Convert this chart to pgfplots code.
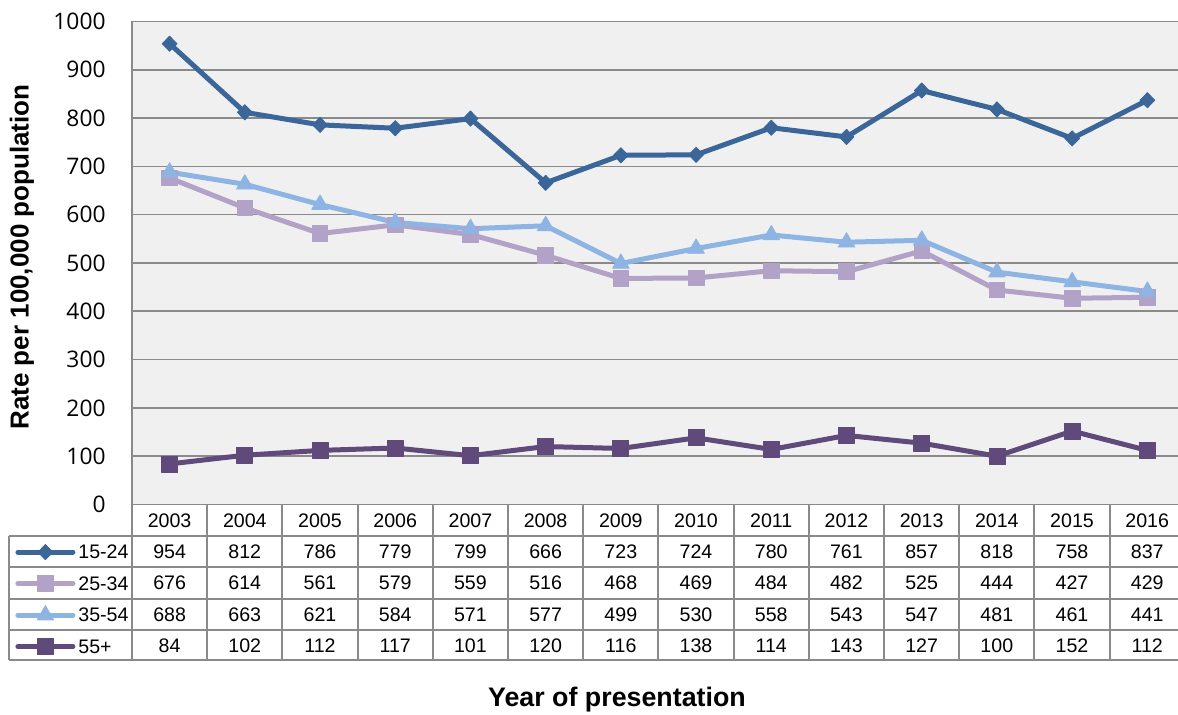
\documentclass[border=0pt]{standalone}
\usepackage{pgfplots}
\pgfplotsset{compat=1.18}
\usepackage{pgfplotstable}
\usepackage{fontspec}
\setmainfont{Liberation Sans}
\newfontfamily\tickfont{Open Sans}

\definecolor{sA}{HTML}{3A6699}
\definecolor{sB}{HTML}{B3A2C7}
\definecolor{sC}{HTML}{8EB4E3}
\definecolor{sD}{HTML}{604A7B}
\definecolor{gridgray}{HTML}{8A8A8A}
\definecolor{plotbg}{HTML}{F0F0F0}

% Rate per 100,000 population by age group
\pgfplotstableread{
year a   b   c   d
2003 954 676 688 84
2004 812 614 663 102
2005 786 561 621 112
2006 779 579 584 117
2007 799 559 571 101
2008 666 516 577 120
2009 723 468 499 116
2010 724 469 530 138
2011 780 484 558 114
2012 761 482 543 143
2013 857 525 547 127
2014 818 444 481 100
2015 758 427 461 152
2016 837 429 441 112
}\data

\tikzset{tabfont/.style={font=\fontsize{9.8}{11}\selectfont, inner sep=0pt}}

\begin{document}
\begin{tikzpicture}
\useasboundingbox (0,0) rectangle (589pt,-357.5pt);
\begin{axis}[
  at={(66pt,-252.25pt)}, anchor=south west,
  scale only axis, width=526.5pt, height=241.5pt,
  xmin=-0.5, xmax=13.5, ymin=0, ymax=1000,
  ytick={0,100,...,1000}, xtick=\empty,
  ymajorgrids,
  major grid style={gridgray, line width=0.8pt},
  axis line style={gridgray, line width=0.8pt},
  axis background/.style={fill=plotbg},
  major tick length=0pt,
  /pgf/number format/assume math mode=true,
  /pgf/number format/1000 sep={},
  yticklabel style={font=\tickfont\fontsize{11.4}{13}\selectfont, anchor=east, inner sep=0pt, xshift=-13pt},
  ylabel={Rate per 100,000 population},
  ylabel style={at={(-0.1045,0.5124)}, anchor=center, font=\bfseries\fontsize{13}{15}\selectfont},
  xlabel={Year of presentation},
  xlabel style={at={(0.4606,-0.4048)}, anchor=center, font=\bfseries\fontsize{13.4}{15}\selectfont},
  legend cell align=left,
  legend image code/.code={\draw[mark repeat=2,mark phase=2] plot coordinates {(0pt,0pt) (13.75pt,0pt) (27.5pt,0pt)};},
  legend style={at={(-0.1111,-0.0652)}, anchor=north west, draw=none, fill=none,
    inner sep=0pt, column sep=1.5pt, row sep=0pt,
    font=\fontsize{9.8}{11}\selectfont,
    nodes={inner sep=0pt, minimum height=15.75pt, text depth=0pt}},
  clip=false,
  every axis plot/.append style={line width=2.5pt, line join=round, line cap=round},
]
\addplot[sA, mark=diamond*, mark size=3.8pt, mark options={solid, line width=0.4pt, xscale=1.3}]
  table[x expr=\coordindex, y=a]{\data};
\addlegendentry{15-24}
\addplot[sB, mark=square*, mark size=3.9pt, mark options={solid, line width=0.4pt}]
  table[x expr=\coordindex, y=b]{\data};
\addlegendentry{25-34}
\addplot[sC, mark=triangle*, mark size=4.8pt, mark options={solid, line width=0.4pt}]
  table[x expr=\coordindex, y=c]{\data};
\addlegendentry{35-54}
\addplot[sD, mark=square*, mark size=4pt, mark options={solid, line width=0.4pt}]
  table[x expr=\coordindex, y=d]{\data};
\addlegendentry{55+}
\end{axis}

% data table under the plot
\begin{scope}[x=0.5pt, y=-0.5pt]
  \begin{scope}[gridgray, line width=1pt]
    \foreach \k in {0,...,14} \draw ({132+75.2*\k},504.5) -- ({132+75.2*\k},660.5);
    \draw (9,536) -- (9,660.5);
    \foreach \yy in {536,567,599,630,660.5} \draw (9,\yy) -- (1190,\yy);
  \end{scope}
  \foreach \k in {0,...,13}{
    \pgfmathsetmacro\cx{132+75.2*(\k+0.5)}
    \pgfplotstablegetelem{\k}{year}\of\data
    \node[tabfont] at (\cx,520.5) {\pgfplotsretval};
    \pgfplotstablegetelem{\k}{a}\of\data
    \node[tabfont] at (\cx,551.5) {\pgfplotsretval};
    \pgfplotstablegetelem{\k}{b}\of\data
    \node[tabfont] at (\cx,583) {\pgfplotsretval};
    \pgfplotstablegetelem{\k}{c}\of\data
    \node[tabfont] at (\cx,614.5) {\pgfplotsretval};
    \pgfplotstablegetelem{\k}{d}\of\data
    \node[tabfont] at (\cx,645.5) {\pgfplotsretval};
  }
\end{scope}
\end{tikzpicture}
\end{document}
